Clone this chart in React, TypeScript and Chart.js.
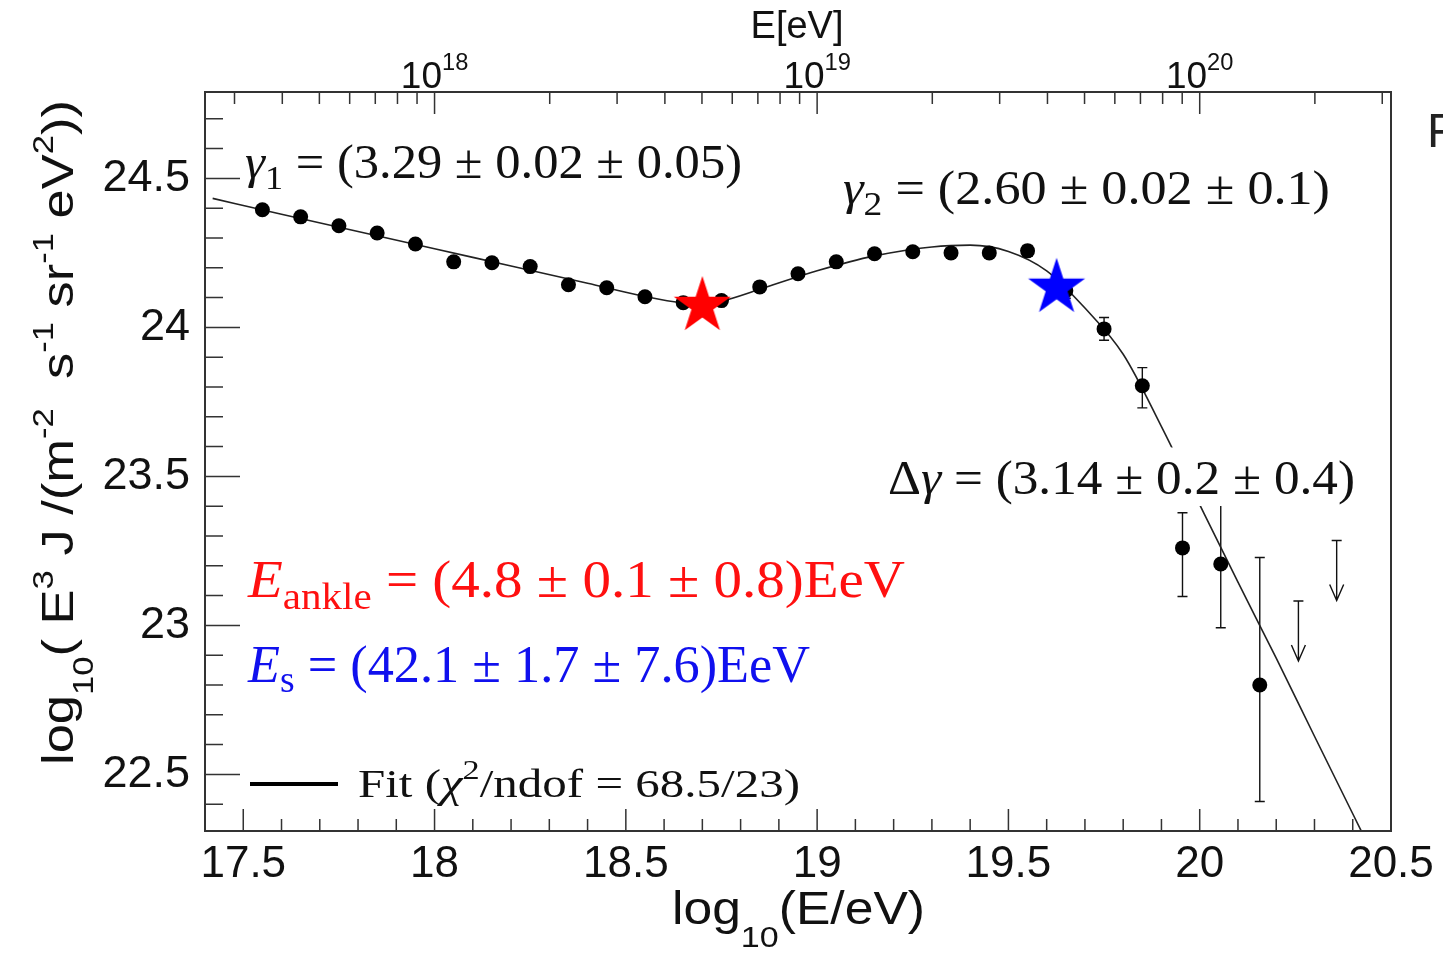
import React, { useEffect, useRef } from 'react';
import { Chart, registerables } from 'chart.js';

Chart.register(...registerables);

// ---------------- data ----------------
const logE = [17.55, 17.65, 17.75, 17.85, 17.95, 18.05, 18.15, 18.25, 18.35, 18.45, 18.55, 18.65, 18.75, 18.85, 18.95, 19.05, 19.15, 19.25, 19.35, 19.45, 19.55, 19.65, 19.75, 19.85, 19.955, 20.055, 20.157];
const flux = [24.395, 24.371, 24.341, 24.317, 24.28, 24.22, 24.217, 24.204, 24.143, 24.133, 24.103, 24.083, 24.09, 24.136, 24.18, 24.22, 24.247, 24.254, 24.25, 24.25, 24.257, 24.123, 23.995, 23.804, 23.26, 23.206, 22.80];
const errPlus = [0.004, 0.004, 0.004, 0.004, 0.004, 0.004, 0.004, 0.005, 0.005, 0.005, 0.005, 0.005, 0.006, 0.006, 0.007, 0.008, 0.009, 0.01, 0.012, 0.014, 0.018, 0.025, 0.038, 0.061, 0.118, 0.29, 0.428];
const errMinus = [0.004, 0.004, 0.004, 0.004, 0.004, 0.004, 0.004, 0.005, 0.005, 0.005, 0.005, 0.005, 0.006, 0.006, 0.007, 0.008, 0.009, 0.01, 0.012, 0.014, 0.018, 0.025, 0.038, 0.074, 0.163, 0.214, 0.391];

// upper limits (arrows)
const ulLogE = [20.258, 20.358];
const ulFlux = [23.082, 23.285];

// fit curve, sampled along the drawn line
const fitLogE = [17.42, 17.6, 17.8, 18.0, 18.2, 18.4, 18.55, 18.65, 18.7, 18.75, 18.85, 19.0, 19.15, 19.3, 19.4, 19.5, 19.6, 19.7, 19.8, 19.9, 20.0, 20.1, 20.2, 20.3, 20.45];
const fitFlux = [24.433, 24.38, 24.322, 24.264, 24.206, 24.148, 24.104, 24.082, 24.078, 24.088, 24.128, 24.19, 24.24, 24.27, 24.276, 24.255, 24.19, 24.065, 23.91, 23.667, 23.405, 23.145, 22.89, 22.628, 22.238];

// ankle (red) and suppression (blue) stars
const starLogE = [18.7, 19.626];
const starFlux = [24.072, 24.133];
const starColors = ['#ff0000', '#0000ff'];

// axes
const xMin = 17.4;
const xMax = 20.5;
const yMin = 22.31;
const yMax = 24.79;
const xTickValues = [17.5, 18, 18.5, 19, 19.5, 20, 20.5];
const yTickValues = [22.5, 23, 23.5, 24, 24.5];
const topDecades = [17, 18, 19, 20];
const topLabelDecades = [18, 19, 20];

// ---------------- helpers ----------------
const SANS = '"Liberation Sans", Arial, sans-serif';
const SERIF = '"Liberation Serif", "Times New Roman", serif';

type Run = { t: string; it?: boolean; pos?: 'sub' | 'sup'; color?: string };

function runFont(r: Run, size: number, family: string, small: number) {
  const s = r.pos ? size * small : size;
  return `${r.it ? 'italic ' : ''}${s}px ${family}`;
}

function measureRuns(ctx: CanvasRenderingContext2D, runs: Run[], size: number, family: string, small: number) {
  let w = 0;
  for (const r of runs) {
    ctx.font = runFont(r, size, family, small);
    w += ctx.measureText(r.t).width;
  }
  return w;
}

function drawRuns(
  ctx: CanvasRenderingContext2D,
  runs: Run[],
  opts: {
    x: number; y: number; size: number; family: string; color: string;
    width?: number; align?: 'left' | 'center'; rotate?: boolean; small?: number;
    subOff?: number; supOff?: number; box?: boolean;
  }
) {
  const small = opts.small ?? 0.7;
  const natural = measureRuns(ctx, runs, opts.size, opts.family, small);
  const sx = opts.width ? opts.width / natural : 1;
  ctx.save();
  ctx.translate(opts.x, opts.y);
  if (opts.rotate) ctx.rotate(-Math.PI / 2);
  const start = opts.align === 'center' ? -(natural * sx) / 2 : 0;
  if (opts.box) {
    ctx.fillStyle = '#ffffff';
    ctx.fillRect(start - 8, -opts.size * 0.97, natural * sx + 16, opts.size * 1.22);
  }
  ctx.translate(start, 0);
  ctx.scale(sx, 1);
  ctx.textBaseline = 'alphabetic';
  ctx.textAlign = 'left';
  let cx = 0;
  for (const r of runs) {
    ctx.font = runFont(r, opts.size, opts.family, small);
    ctx.fillStyle = r.color ?? opts.color;
    let dy = 0;
    if (r.pos === 'sub') dy = opts.size * (opts.subOff ?? 0.22);
    if (r.pos === 'sup') dy = -opts.size * (opts.supOff ?? 0.42);
    ctx.fillText(r.t, cx, dy);
    cx += ctx.measureText(r.t).width;
  }
  ctx.restore();
}

function makeStar(color: string, R: number) {
  const c = document.createElement('canvas');
  const s = Math.ceil(R * 2 + 4);
  c.width = s;
  c.height = s;
  const g = c.getContext('2d')!;
  g.translate(s / 2, s / 2);
  g.beginPath();
  for (let i = 0; i < 10; i++) {
    const r = i % 2 === 0 ? R : R * 0.382;
    const a = -Math.PI / 2 + (i * Math.PI) / 5;
    if (i === 0) g.moveTo(r * Math.cos(a), r * Math.sin(a));
    else g.lineTo(r * Math.cos(a), r * Math.sin(a));
  }
  g.closePath();
  g.fillStyle = color;
  g.fill();
  return c;
}

// ---------------- plugins ----------------
const backgroundPlugin = {
  id: 'bg',
  beforeDraw(chart: any) {
    const ctx = chart.ctx;
    ctx.save();
    ctx.fillStyle = '#ffffff';
    ctx.fillRect(0, 0, chart.width, chart.height);
    ctx.restore();
  },
};

const errorBarPlugin = {
  id: 'errorBars',
  beforeDatasetsDraw(chart: any) {
    const ctx = chart.ctx;
    const xs = chart.scales.x;
    const ys = chart.scales.y;
    const area = chart.chartArea;
    ctx.save();
    ctx.beginPath();
    ctx.rect(area.left, area.top, area.right - area.left, area.bottom - area.top);
    ctx.clip();
    ctx.strokeStyle = '#111';
    ctx.lineWidth = 1.4;
    const cap = 5;
    for (let i = 0; i < logE.length; i++) {
      const px = xs.getPixelForValue(logE[i]);
      const top = ys.getPixelForValue(flux[i] + errPlus[i]);
      const bot = ys.getPixelForValue(flux[i] - errMinus[i]);
      ctx.beginPath();
      ctx.moveTo(px, top);
      ctx.lineTo(px, bot);
      ctx.moveTo(px - cap, top);
      ctx.lineTo(px + cap, top);
      ctx.moveTo(px - cap, bot);
      ctx.lineTo(px + cap, bot);
      ctx.stroke();
    }
    // upper limits
    const arrowLen = 60;
    for (let i = 0; i < ulLogE.length; i++) {
      const px = xs.getPixelForValue(ulLogE[i]);
      const py = ys.getPixelForValue(ulFlux[i]);
      ctx.beginPath();
      ctx.moveTo(px - cap, py);
      ctx.lineTo(px + cap, py);
      ctx.moveTo(px, py);
      ctx.lineTo(px, py + arrowLen);
      ctx.moveTo(px - 7, py + arrowLen - 16);
      ctx.lineTo(px, py + arrowLen);
      ctx.lineTo(px + 7, py + arrowLen - 16);
      ctx.stroke();
    }
    ctx.restore();
  },
};

const decorPlugin = {
  id: 'decor',
  afterDatasetsDraw(chart: any) {
    const ctx: CanvasRenderingContext2D = chart.ctx;
    const xs = chart.scales.x;
    const xt = chart.scales.x2;
    const ys = chart.scales.y;
    const a = chart.chartArea;

    // ---- annotations with white boxes ----
    drawRuns(ctx, [
      { t: 'γ', it: true }, { t: '1', pos: 'sub' },
      { t: ' = (3.29 ± 0.02 ± 0.05)' },
    ], { x: 245, y: 178, size: 48, family: SERIF, color: '#111', width: 497, box: true, small: 0.72 });

    drawRuns(ctx, [
      { t: 'γ', it: true }, { t: '2', pos: 'sub' },
      { t: ' = (2.60 ± 0.02 ± 0.1)' },
    ], { x: 843, y: 204, size: 48, family: SERIF, color: '#111', width: 487, box: true, small: 0.72 });

    drawRuns(ctx, [
      { t: 'Δ' }, { t: 'γ', it: true },
      { t: ' = (3.14 ± 0.2 ± 0.4)' },
    ], { x: 888, y: 494, size: 48, family: SERIF, color: '#111', width: 467, box: true });

    drawRuns(ctx, [
      { t: 'E', it: true }, { t: 'ankle', pos: 'sub' },
      { t: ' = (4.8 ± 0.1 ± 0.8)EeV' },
    ], { x: 248, y: 597, size: 52, family: SERIF, color: '#ff1010', width: 657, box: true, small: 0.72, subOff: 0.24 });

    drawRuns(ctx, [
      { t: 'E', it: true }, { t: 's', pos: 'sub' },
      { t: ' = (42.1 ± 1.7 ± 7.6)EeV' },
    ], { x: 248, y: 682, size: 52, family: SERIF, color: '#1010ee', width: 562, box: true, small: 0.72, subOff: 0.2 });

    // ---- legend ----
    ctx.save();
    ctx.fillStyle = '#ffffff';
    ctx.fillRect(244, 758, 570, 58);
    ctx.strokeStyle = '#000';
    ctx.lineWidth = 4;
    ctx.beginPath();
    ctx.moveTo(250, 784);
    ctx.lineTo(338, 784);
    ctx.stroke();
    ctx.restore();
    drawRuns(ctx, [
      { t: 'Fit (' }, { t: 'χ', it: true }, { t: '2', pos: 'sup' },
      { t: '/ndof = 68.5/23)' },
    ], { x: 358, y: 797, size: 40, family: SERIF, color: '#111', width: 442, supOff: 0.45 });

    // ---- frame ----
    ctx.save();
    ctx.strokeStyle = '#333';
    ctx.lineWidth = 2;
    ctx.strokeRect(a.left, a.top, a.right - a.left, a.bottom - a.top);

    // ---- inward ticks ----
    ctx.lineWidth = 1.5;
    ctx.beginPath();
    // bottom axis
    for (let k = Math.ceil(xMin * 10); k <= Math.floor(xMax * 10); k++) {
      const v = k / 10;
      const px = xs.getPixelForValue(v);
      const major = k % 5 === 0;
      ctx.moveTo(px, a.bottom);
      ctx.lineTo(px, a.bottom - (major ? 22 : 12));
    }
    // left axis
    for (let k = Math.ceil(yMin * 10); k <= Math.floor(yMax * 10); k++) {
      const v = k / 10;
      const py = ys.getPixelForValue(v);
      const major = k % 5 === 0;
      ctx.moveTo(a.left, py);
      ctx.lineTo(a.left + (major ? 35 : 18), py);
    }
    // top log axis
    for (const d of topDecades) {
      for (let m = 1; m <= 9; m++) {
        const v = d + Math.log10(m);
        if (v < xMin || v > xMax) continue;
        const px = xt.getPixelForValue(v);
        ctx.moveTo(px, a.top);
        ctx.lineTo(px, a.top + (m === 1 ? 22 : 12));
      }
    }
    ctx.stroke();
    ctx.restore();

    // ---- top axis labels 10^n ----
    for (const d of topLabelDecades) {
      const px = xt.getPixelForValue(d);
      drawRuns(ctx, [{ t: '10' }, { t: String(d), pos: 'sup' }], {
        x: px, y: 88, size: 37, family: SANS, color: '#111', align: 'center', small: 0.64, supOff: 0.5,
      });
    }

    // ---- axis titles ----
    drawRuns(ctx, [{ t: 'E[eV]' }], { x: 797, y: 38, size: 38, family: SANS, color: '#111', align: 'center' });

    drawRuns(ctx, [{ t: 'log' }, { t: '10', pos: 'sub' }, { t: '(E/eV)' }], {
      x: 672, y: 924, size: 46, family: SANS, color: '#111', width: 253, small: 0.66, subOff: 0.5,
    });

    drawRuns(ctx, [
      { t: 'log' }, { t: '10', pos: 'sub' }, { t: '( E' }, { t: '3', pos: 'sup' },
      { t: ' J /(m' }, { t: '-2', pos: 'sup' }, { t: '  s' }, { t: '-1', pos: 'sup' },
      { t: ' sr' }, { t: '-1', pos: 'sup' }, { t: ' eV' }, { t: '2', pos: 'sup' }, { t: '))' },
    ], {
      x: 73, y: 765, size: 45, family: SANS, color: '#111', width: 665, rotate: true, small: 0.66, subOff: 0.45, supOff: 0.45,
    });

    // fragment of the neighbouring panel at the right edge
    ctx.save();
    ctx.font = `48px ${SANS}`;
    ctx.fillStyle = '#222';
    ctx.textBaseline = 'alphabetic';
    ctx.fillText('F', 1427, 147);
    ctx.restore();
  },
};

export default function App() {
  const canvasRef = useRef<HTMLCanvasElement | null>(null);

  useEffect(() => {
    const canvas = canvasRef.current;
    if (!canvas) return;
    const stars = starColors.map((c) => makeStar(c, 30));

    const chart = new Chart(canvas, {
      type: 'scatter',
      data: {
        datasets: [
          {
            label: 'stars',
            data: starLogE.map((x, i) => ({ x, y: starFlux[i] })),
            pointStyle: stars as any,
            pointRadius: 30,
            backgroundColor: starColors,
            borderWidth: 0,
          } as any,
          {
            label: 'data',
            data: logE.map((x, i) => ({ x, y: flux[i] })),
            pointRadius: 7.5,
            pointStyle: 'circle',
            backgroundColor: '#000',
            borderColor: '#000',
            borderWidth: 0,
          },
          {
            type: 'line',
            label: 'Fit',
            data: fitLogE.map((x, i) => ({ x, y: fitFlux[i] })),
            borderColor: '#222',
            borderWidth: 1.6,
            pointRadius: 0,
            fill: false,
            cubicInterpolationMode: 'monotone',
          } as any,
        ],
      },
      options: {
        responsive: false,
        devicePixelRatio: 1,
        animation: false,
        events: [],
        layout: { padding: { left: 0, right: 52, top: 0, bottom: 0 } },
        plugins: {
          legend: { display: false },
          tooltip: { enabled: false },
          title: { display: false },
        },
        scales: {
          x: {
            type: 'linear',
            position: 'bottom',
            min: xMin,
            max: xMax,
            grid: { display: false, drawTicks: false },
            border: { display: false },
            afterBuildTicks: (scale: any) => {
              scale.ticks = xTickValues.map((value) => ({ value }));
            },
            afterFit: (scale: any) => {
              scale.height = 122;
            },
            ticks: {
              autoSkip: false,
              maxRotation: 0,
              padding: 7,
              color: '#111',
              font: { family: SANS, size: 44 },
              callback: (v: any) => String(v),
            },
          },
          x2: {
            type: 'linear',
            position: 'top',
            min: xMin,
            max: xMax,
            grid: { display: false, drawTicks: false },
            border: { display: false },
            ticks: { display: false },
            afterFit: (scale: any) => {
              scale.height = 92;
            },
          },
          y: {
            type: 'linear',
            position: 'left',
            min: yMin,
            max: yMax,
            grid: { display: false, drawTicks: false },
            border: { display: false },
            afterBuildTicks: (scale: any) => {
              scale.ticks = yTickValues.map((value) => ({ value }));
            },
            afterFit: (scale: any) => {
              scale.width = 205;
            },
            ticks: {
              autoSkip: false,
              padding: 15,
              color: '#111',
              font: { family: SANS, size: 45 },
              callback: (v: any) => String(v),
            },
          },
        },
      } as any,
      plugins: [backgroundPlugin, errorBarPlugin, decorPlugin],
    });

    return () => chart.destroy();
  }, []);

  return (
    <div style={{ position: 'fixed', left: 0, top: 0, width: 1443, height: 953, background: '#fff' }}>
      <canvas ref={canvasRef} width={1443} height={953} style={{ display: 'block' }} />
    </div>
  );
}
